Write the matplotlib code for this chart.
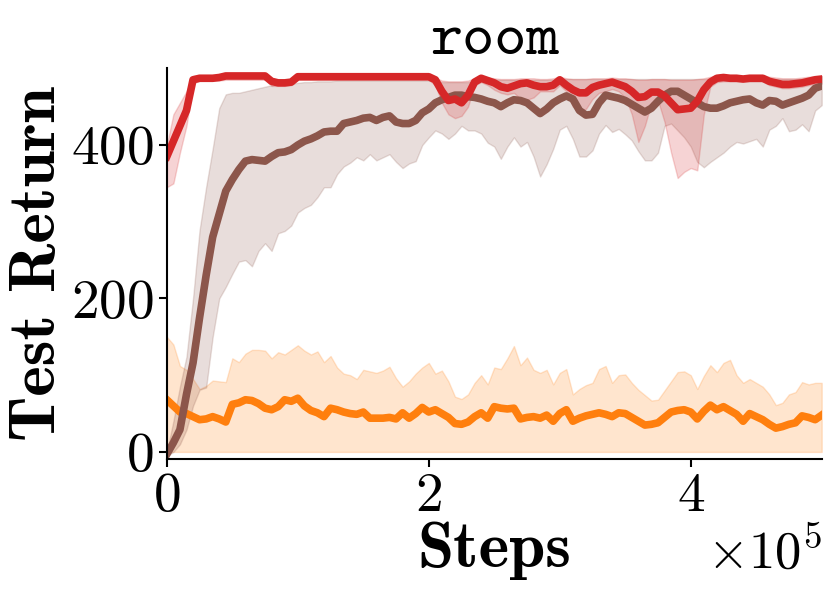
import numpy as np
import matplotlib
matplotlib.use("Agg")
import matplotlib.pyplot as plt

plt.rcParams['font.family'] = 'cmr10'
plt.rcParams['mathtext.fontset'] = 'cm'
plt.rcParams['axes.formatter.use_mathtext'] = True

# environment steps, one eval every 5000 steps
steps = np.arange(0, 500001, 5000)

# red run: mean and band
red_mean = [385, 405, 425, 445, 485, 487, 487, 487, 488, 490,
            490, 490, 490, 490, 490, 490, 483, 481, 481, 482,
            489, 489, 489, 489, 489, 489, 489, 489, 489, 489,
            489, 489, 489, 489, 489, 489, 489, 489, 489, 489,
            489, 485, 470, 458, 460, 455, 465, 482, 487, 484,
            481, 476, 474, 477, 480, 481, 478, 476, 476, 478,
            485, 478, 472, 468, 468, 475, 478, 480, 482, 479,
            476, 470, 462, 463, 469, 469, 464, 455, 446, 447,
            448, 457, 472, 482, 487, 488, 487, 487, 486, 487,
            487, 487, 483, 481, 479, 479, 480, 481, 483, 485, 486]
red_hi = [400, 440, 455, 470, 490, 491, 491, 491, 491, 492,
          492, 492, 492, 492, 492, 492, 487, 485, 485, 486,
          491, 491, 491, 491, 491, 491, 491, 491, 491, 491,
          491, 491, 491, 491, 491, 491, 491, 491, 491, 491,
          491, 488, 484, 483, 483, 483, 484, 487, 490, 488,
          487, 486, 486, 486, 487, 487, 487, 486, 486, 487,
          489, 487, 486, 486, 486, 487, 487, 487, 488, 487,
          487, 486, 485, 485, 486, 486, 486, 485, 485, 485,
          485, 486, 487, 489, 491, 491, 491, 491, 490, 491,
          491, 491, 489, 488, 487, 487, 487, 488, 489, 490, 490]
red_lo = [345, 350, 390, 425, 480, 484, 484, 484, 484, 485,
          485, 485, 485, 485, 485, 485, 477, 477, 477, 478,
          485, 485, 485, 485, 485, 485, 485, 485, 485, 485,
          485, 485, 485, 485, 485, 485, 485, 485, 485, 485,
          485, 478, 455, 440, 435, 438, 450, 478, 482, 478,
          472, 468, 466, 468, 460, 459, 462, 470, 470, 470,
          478, 470, 450, 446, 447, 460, 468, 470, 473, 470,
          462, 440, 404, 425, 455, 458, 430, 390, 357, 365,
          370, 367, 440, 476, 482, 483, 483, 483, 483, 483,
          483, 483, 478, 476, 474, 474, 475, 476, 478, 480, 480]

# brown run
brown_mean = [-3, 12, 29, 75, 116, 175, 230, 280, 310, 340,
              355, 368, 379, 381, 380, 379, 385, 390, 391, 394,
              400, 405, 408, 412, 417, 418, 418, 428, 430, 432,
              435, 436, 432, 436, 438, 430, 428, 428, 432, 442,
              447, 455, 459, 462, 465, 465, 463, 462, 460, 457,
              455, 450, 455, 459, 458, 455, 448, 441, 447, 455,
              460, 464, 460, 445, 439, 440, 455, 465, 463, 461,
              458, 453, 448, 443, 448, 457, 465, 470, 470, 465,
              460, 455, 450, 448, 448, 451, 455, 457, 459, 460,
              455, 452, 458, 457, 452, 455, 458, 461, 465, 474, 477]
brown_hi = [0, 40, 85, 124, 200, 289, 345, 395, 448, 466,
            468, 468, 470, 472, 474, 476, 478, 479, 480, 480,
            481, 482, 482, 483, 483, 483, 484, 484, 484, 484,
            484, 484, 484, 484, 484, 484, 484, 484, 484, 484,
            484, 483, 482, 482, 482, 482, 482, 483, 484, 484,
            485, 485, 485, 485, 485, 485, 485, 485, 485, 485,
            486, 486, 486, 486, 486, 486, 486, 486, 486, 486,
            486, 486, 486, 486, 486, 486, 486, 486, 486, 486,
            486, 486, 486, 486, 486, 486, 486, 486, 486, 486,
            486, 486, 486, 486, 486, 486, 486, 486, 487, 488, 490]
brown_lo = [-5, 0, 10, 29, 60, 81, 84, 150, 200, 215,
            232, 248, 250, 242, 262, 272, 262, 285, 288, 295,
            312, 318, 322, 332, 345, 345, 362, 372, 377, 384,
            380, 388, 380, 384, 388, 378, 370, 376, 379, 400,
            410, 419, 415, 408, 415, 425, 419, 419, 415, 403,
            398, 382, 398, 410, 398, 404, 385, 359, 375, 395,
            420, 425, 408, 385, 385, 393, 415, 426, 417, 421,
            414, 406, 392, 380, 380, 390, 425, 428, 419, 410,
            398, 378, 371, 378, 384, 390, 398, 404, 402, 405,
            408, 398, 420, 425, 435, 418, 420, 427, 418, 445, 452]

# orange run (band clipped at zero from below)
orange_mean = [68, 60, 52, 50, 46, 42, 43, 46, 43, 39,
               62, 64, 68, 67, 63, 57, 55, 59, 68, 66,
               70, 60, 54, 51, 46, 57, 55, 52, 50, 49,
               52, 44, 44, 44, 45, 43, 51, 44, 50, 58,
               52, 55, 50, 45, 37, 36, 39, 46, 51, 44,
               59, 57, 56, 57, 43, 45, 46, 44, 48, 40,
               50, 55, 40, 44, 47, 49, 51, 49, 46, 51,
               50, 45, 40, 35, 36, 38, 45, 52, 54, 55,
               52, 43, 53, 61, 55, 59, 54, 49, 40, 50,
               46, 42, 36, 31, 33, 36, 38, 47, 45, 42, 48]
orange_hi = [150, 140, 112, 107, 95, 82, 86, 93, 92, 91,
             122, 117, 128, 133, 133, 132, 122, 130, 127, 133,
             139, 132, 127, 131, 117, 125, 110, 102, 100, 95,
             107, 105, 103, 106, 111, 96, 85, 92, 102, 110,
             116, 102, 106, 92, 72, 69, 75, 90, 100, 88,
             110, 108, 122, 138, 113, 123, 107, 103, 107, 88,
             103, 108, 75, 82, 87, 90, 108, 112, 90, 100,
             101, 90, 81, 74, 67, 68, 80, 92, 104, 105,
             100, 82, 99, 113, 104, 116, 120, 100, 90, 95,
             90, 85, 75, 61, 64, 75, 78, 91, 88, 90, 90]
orange_lo = [0] * 101

runs = [
    (orange_mean, orange_lo, orange_hi, 'tab:orange'),
    (brown_mean, brown_lo, brown_hi, 'tab:brown'),
    (red_mean, red_lo, red_hi, 'tab:red'),
]

fig = plt.figure(figsize=(8.30, 5.99), dpi=100)
ax = fig.add_axes([0.201, 0.234, 0.789, 0.652])

for mean, lo, hi, c in runs:
    ax.fill_between(steps, lo, hi, color=c, alpha=0.2)
    ax.plot(steps, mean, color=c, lw=5.5)

ax.set_xlim(0, 500000)
ax.set_ylim(-9, 500)
ax.set_xticks([0, 200000, 400000])
ax.set_yticks([0, 200, 400])
ax.ticklabel_format(style='sci', axis='x', scilimits=(0, 0))
ax.tick_params(labelsize=40, width=1.5, length=6)
ax.xaxis.get_offset_text().set_fontsize(38)
ax.spines['top'].set_visible(False)
ax.spines['right'].set_visible(False)
for s in ['left', 'bottom']:
    ax.spines[s].set_linewidth(1.5)

ax.set_title('room', fontfamily='cmtt10', fontsize=44, pad=6)
ax.set_xlabel('Steps', fontfamily='cmb10', fontsize=47, labelpad=0)
ax.set_ylabel('Test Return', fontfamily='cmb10', fontsize=47, labelpad=2)

fig.savefig('out.png', dpi=100)
